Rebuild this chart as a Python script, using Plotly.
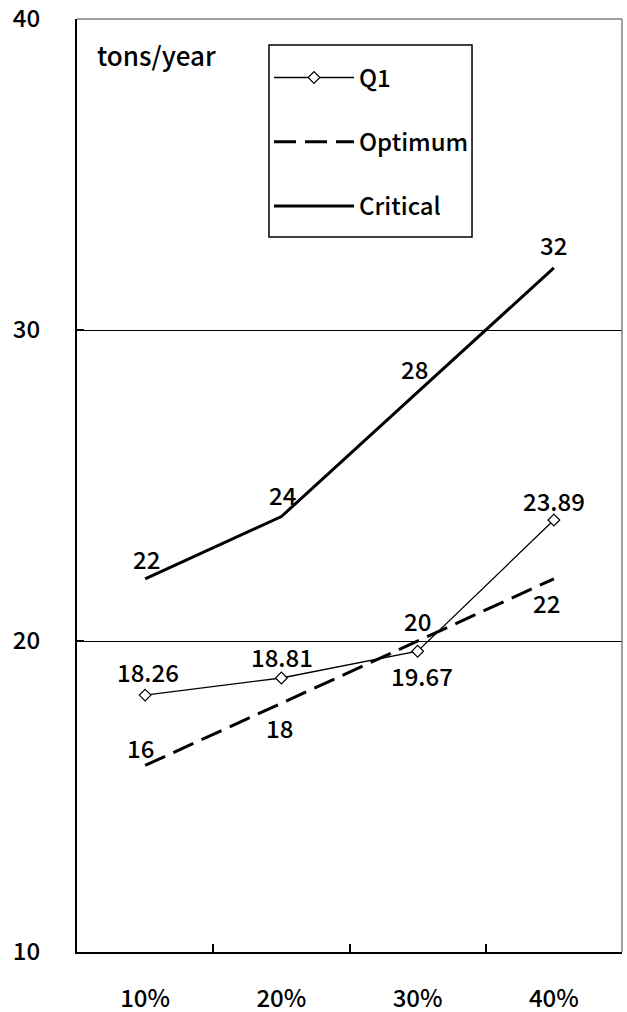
import plotly.graph_objects as go

categories = ["10%", "20%", "30%", "40%"]
q1 = [18.26, 18.81, 19.67, 23.89]
optimum = [16, 18, 20, 22]
critical = [22, 24, 28, 32]
q1_labels = ["18.26", "18.81", "19.67", "23.89"]
opt_labels = ["16", "18", "20", "22"]
crit_labels = ["22", "24", "28", "32"]
y_ticks = [10, 20, 30, 40]

# label offsets (px): (xshift, yshift)
q1_off = [(3, 24), (1, 22), (4, -24), (0, 20)]
opt_off = [(-5, 18), (-2, -24), (0, 21), (-7, -24)]
crit_off = [(1, 20), (1, 22), (-3, 24), (0, 23)]

FONT = "Noto Sans CJK JP"
FS = 24

fig = go.Figure()
fig.add_trace(go.Scatter(
    x=categories, y=q1, name="Q1", mode="lines+markers", legendgroup="a",
    line=dict(color="black", width=1.3),
    marker=dict(symbol="diamond", size=9, color="white", line=dict(color="black", width=1.2)),
))
fig.add_trace(go.Scatter(
    x=categories, y=optimum, name="Optimum", mode="lines", legendgroup="b",
    line=dict(color="black", width=3, dash="22px,9px"),
))
fig.add_trace(go.Scatter(
    x=categories, y=critical, name="Critical", mode="lines", legendgroup="c",
    line=dict(color="black", width=3),
))

for vals, labs, offs in [(q1, q1_labels, q1_off), (optimum, opt_labels, opt_off), (critical, crit_labels, crit_off)]:
    for c, v, t, (dx, dy) in zip(categories, vals, labs, offs):
        fig.add_annotation(x=c, y=v, text=t, showarrow=False, xshift=dx, yshift=dy,
                           font=dict(family=FONT, size=FS, color="black", weight=500))

fig.add_annotation(xref="paper", yref="paper", x=0.033, y=0.962, xanchor="left", yanchor="middle",
                   text="tons/year", showarrow=False, font=dict(family=FONT, size=26, color="black", weight=500))

# top & right border (gray)
fig.add_shape(type="line", xref="paper", yref="paper", x0=0, x1=1, y0=1, y1=1,
              line=dict(color="#808080", width=1.5), layer="above")
fig.add_shape(type="line", xref="paper", yref="paper", x0=1, x1=1, y0=0, y1=1,
              line=dict(color="#808080", width=1.5), layer="above")
# legend frame
fig.add_shape(type="rect", xref="paper", yref="paper", x0=0.3523, x1=0.7248, y0=0.7663, y1=0.9721,
              line=dict(color="black", width=1.5), fillcolor="rgba(0,0,0,0)", layer="above")

fig.update_layout(
    width=627, height=1012,
    margin=dict(l=77, r=5, t=19, b=60, autoexpand=False),
    paper_bgcolor="white", plot_bgcolor="white",
    font=dict(family=FONT, size=FS, color="black", weight=500),
    showlegend=True,
    legend=dict(
        x=0.3523, y=0.961, xanchor="left", yanchor="top",
        borderwidth=0, bgcolor="rgba(0,0,0,0)",
        font=dict(family=FONT, size=FS, color="black", weight=500),
        itemwidth=80, tracegroupgap=30,
    ),
    xaxis=dict(
        type="category", range=[-0.5, 3.5], tickson="boundaries",
        ticks="inside", ticklen=8, tickcolor="black", tickwidth=1.5,
        showline=True, linecolor="black", linewidth=2, showgrid=False,
        ticklabelstandoff=24, automargin=False, ticklabeloverflow="allow",
        tickfont=dict(family=FONT, size=FS, weight=500),
    ),
    yaxis=dict(
        range=[10, 40], tickvals=y_ticks, ticks="inside", ticklen=7,
        tickcolor="black", tickwidth=1.5,
        showline=True, linecolor="black", linewidth=2,
        showgrid=True, gridcolor="black", gridwidth=1.2, zeroline=False,
        ticklabelstandoff=30, automargin=False, ticklabeloverflow="allow",
        tickfont=dict(family=FONT, size=FS, weight=500),
    ),
)

fig.write_html("out.html", config={"displayModeBar": False},
               post_script="document.body.style.margin='0';")
